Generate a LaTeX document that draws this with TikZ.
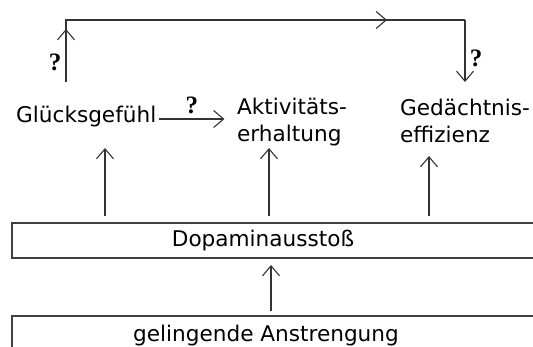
\documentclass[tikz,border=0pt]{standalone}
\usepackage{fontspec}
\setmainfont{DejaVu Sans}
\newfontfamily\fragefont{Liberation Serif}
\usetikzlibrary{positioning,arrows.meta,calc}

\tikzset{
	linie/.style={draw=black!80, line width=1.1pt},
	pfeil/.style={linie, -{Straight Barb[length=10pt,width=17pt,line width=1.1pt]}},
	rahmen/.style={draw=black!75, line width=1.1pt},
	begriff/.style={inner sep=0pt, font=\fontsize{21.6}{27}\selectfont, align=left},
	frage/.style={inner sep=0pt, font=\fontsize{25}{25}\fragefont\bfseries},
}

\begin{document}
\begin{tikzpicture}[x=1pt, y=-1pt]
	\clip (0,0) rectangle (533,346);
	
	% Begriffe
	\node[begriff, anchor=base west] (glueck) at (16,122) {Glücksgefühl};
	\node[begriff, anchor=north west] (aktiv) at (237,98) {Aktivitäts-\\erhaltung};
	\node[begriff, anchor=north west] (gedaecht) at (400,99) {Gedächtnis-\\effizienz};
	
	% Kästen
	\draw[rahmen] (12,223) rectangle (560,258);
	\node[begriff] (dopa) at (263,241) {Dopaminausstoß};
	\draw[rahmen] (12,316) rectangle (560,370);
	\node[begriff] (anstr) at (266,335.5) {gelingende Anstrengung};
	
	% Rückkopplung oben
	\coordinate (los) at (66,82);
	\coordinate (ecke1) at (66,20);
	\coordinate (ecke2) at (465,20);
	\coordinate (ziel) at (465,82);
	\draw[linie] (los) -- (ecke1) -- (ecke2);
	\draw[pfeil] (los) -- (66,29);
	\draw[pfeil] (ecke1) -- (387,20);
	\draw[pfeil] (ecke2) -- (ziel);
	\node[frage] (f1) at (55,62) {?};
	\node[frage] (f2) at (476,58) {?};
	
	% Glücksgefühl -> Aktivität
	\draw[pfeil] (glueck.east |- 0,119) ++(3,0) coordinate (g0) -- ([xshift=65pt]g0) coordinate (g1);
	\node[frage, above=5pt of $(g0)!0.5!(g1)$] (f3) {?};
	
	% Dopamin -> Begriffe
	\coordinate (h1) at (105,148);
	\coordinate (h2) at (269,148);
	\coordinate (h3) at (429,156);
	\foreach \h in {h1,h2,h3}
		\draw[pfeil] (\h |- 0,216) -- (\h);
	
	% Anstrengung -> Dopamin
	\coordinate (h4) at (271,265);
	\draw[pfeil] (h4 |- 0,311) -- (h4);
\end{tikzpicture}
\end{document}
